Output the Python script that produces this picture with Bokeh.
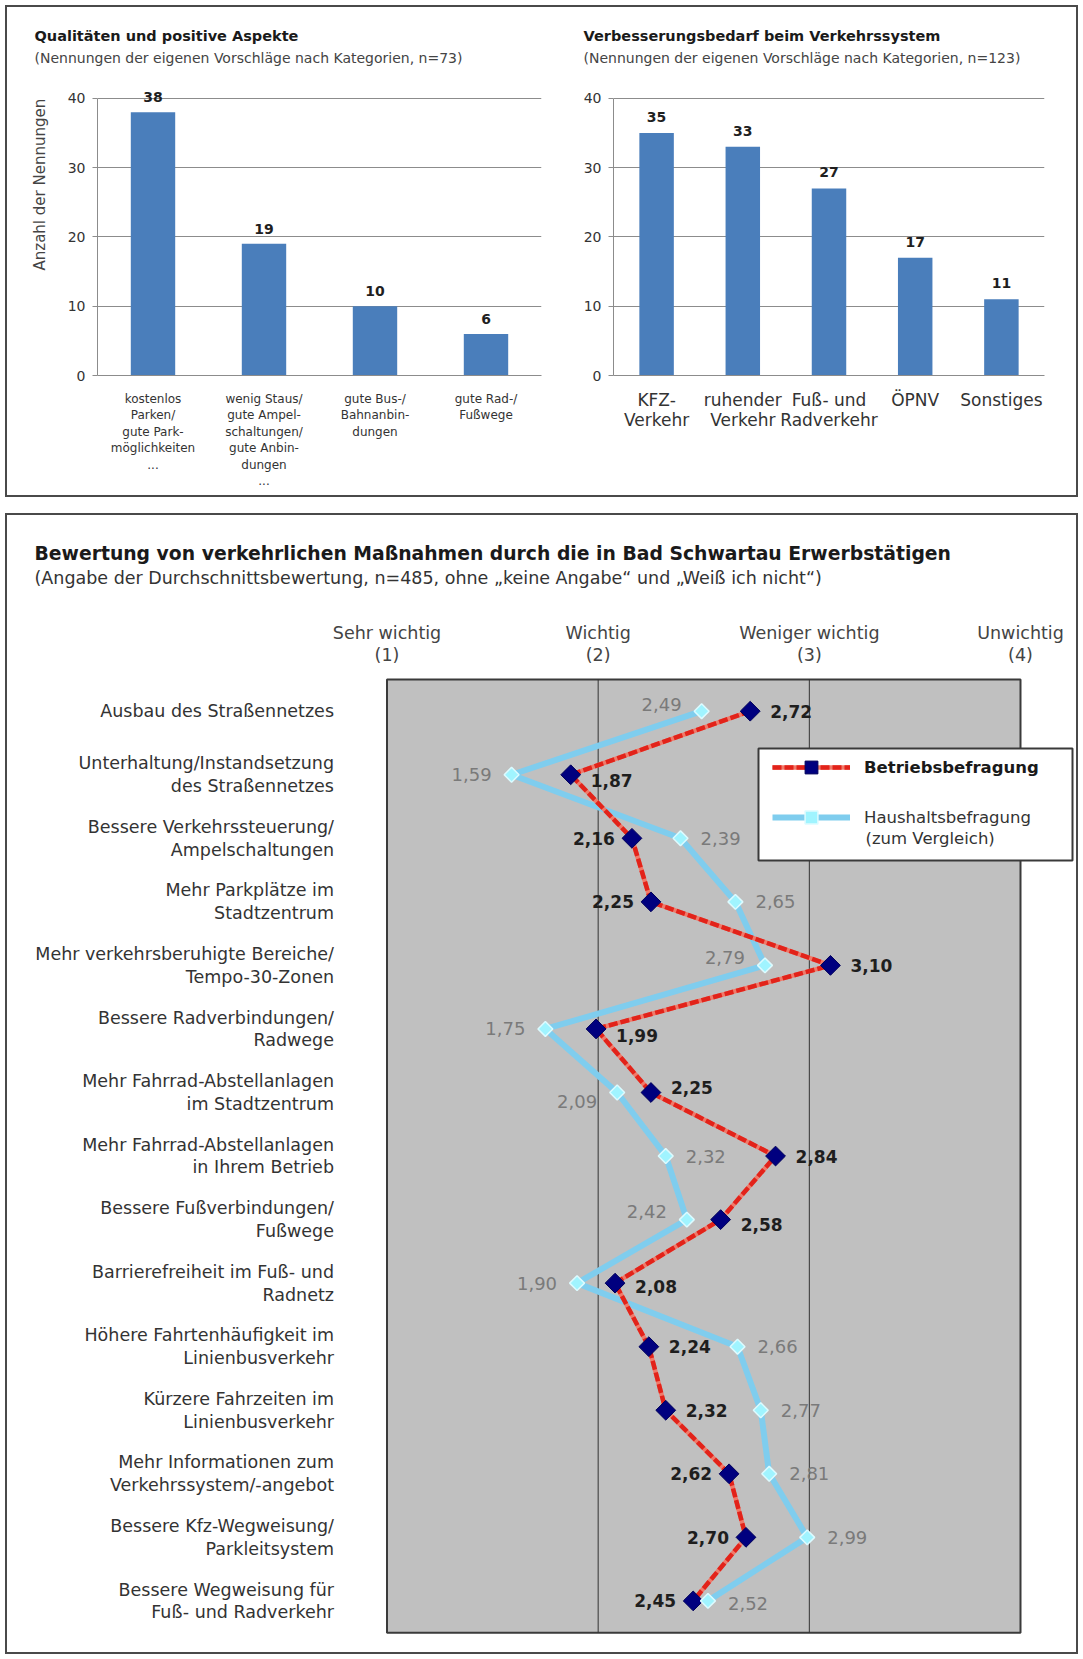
import math

from bokeh.core.properties import value
from bokeh.embed import file_html
from bokeh.layouts import column, row
from bokeh.models import (BoxAnnotation, ColumnDataSource, FactorRange, FixedTicker,
                          Label, Legend, LegendItem, Range1d, Spacer, Title)
from bokeh.plotting import figure
from bokeh.resources import INLINE

FONT = "DejaVu Sans"

# ---------------------------------------------------------------- data
pos_categories = [
    "kostenlos\nParken/\ngute Park-\nmöglichkeiten\n...",
    "wenig Staus/\ngute Ampel-\nschaltungen/\ngute Anbin-\ndungen\n...",
    "gute Bus-/\nBahnanbin-\ndungen",
    "gute Rad-/\nFußwege",
]
pos_counts = [38, 19, 10, 6]

need_categories = ["KFZ-\nVerkehr", "ruhender\nVerkehr", "Fuß- und\nRadverkehr", "ÖPNV", "Sonstiges"]
need_counts = [35, 33, 27, 17, 11]

count_ticks = [0, 10, 20, 30, 40]

measures = [
    "Ausbau des Straßennetzes",
    "Unterhaltung/Instandsetzung\ndes Straßennetzes",
    "Bessere Verkehrssteuerung/\nAmpelschaltungen",
    "Mehr Parkplätze im\nStadtzentrum",
    "Mehr verkehrsberuhigte Bereiche/\nTempo-30-Zonen",
    "Bessere Radverbindungen/\nRadwege",
    "Mehr Fahrrad-Abstellanlagen\nim Stadtzentrum",
    "Mehr Fahrrad-Abstellanlagen\nin Ihrem Betrieb",
    "Bessere Fußverbindungen/\nFußwege",
    "Barrierefreiheit im Fuß- und\nRadnetz",
    "Höhere Fahrtenhäufigkeit im\nLinienbusverkehr",
    "Kürzere Fahrzeiten im\nLinienbusverkehr",
    "Mehr Informationen zum\nVerkehrssystem/-angebot",
    "Bessere Kfz-Wegweisung/\nParkleitsystem",
    "Bessere Wegweisung für\nFuß- und Radverkehr",
]
betrieb = [2.72, 1.87, 2.16, 2.25, 3.10, 1.99, 2.25, 2.84, 2.58, 2.08, 2.24, 2.32, 2.62, 2.70, 2.45]
haushalt = [2.49, 1.59, 2.39, 2.65, 2.79, 1.75, 2.09, 2.32, 2.42, 1.90, 2.66, 2.77, 2.81, 2.99, 2.52]

scale_ticks = [1, 2, 3, 4]
scale_labels = ["Sehr wichtig\n(1)", "Wichtig\n(2)", "Weniger wichtig\n(3)", "Unwichtig\n(4)"]

# label placement next to the markers: side (+1 right / -1 left) and vertical nudge in px
betrieb_side = [1, 1, -1, -1, 1, 1, 1, 1, 1, 1, 1, 1, -1, -1, -1]
betrieb_nudge = [0, 6, 0, 0, 0, 7, -5, 0, 5, 3, 0, 0, 0, 0, 0]
haushalt_side = [-1, -1, 1, 1, -1, -1, -1, 1, -1, -1, 1, 1, 1, 1, 1]
haushalt_nudge = [-7, 0, 0, 0, -8, 0, 9, 0, -8, 0, 0, 0, 0, 0, 3]

TOP_H = 502
GAP = 6
BOTTOM_H = 1659 - TOP_H - GAP
BOTTOM_Y0 = TOP_H + GAP
PANEL_OUTLINE = {"outline": "2px solid #4a4a4a", "outline-offset": "-7px"}


def de(v):
    return f"{v:.2f}".replace(".", ",")


def make_title(text, offset, size, standoff, bold=False, color="#1a1a1a", align="left"):
    t = Title(text=text, align=align, offset=offset, text_font=FONT, text_font_size=size,
              text_font_style="bold" if bold else "normal", text_color=color)
    try:
        t.standoff = standoff
    except ValueError:
        t.standoff = max(standoff, 0)
    return t


def canvas_text(x, y, text, size, bold=False, color="#333333"):
    return Label(x=x, y=y, x_units="canvas", y_units="canvas", text=text,
                 text_font=FONT, text_font_size=size,
                 text_font_style="bold" if bold else "normal",
                 text_color=color, text_baseline="middle")


def bar_panel(cats, counts, width, left, right, label_size, line_h, label_gap, standoff):
    p = figure(x_range=FactorRange(*cats), y_range=Range1d(0, 43), title=None,
               width=width, height=TOP_H, output_backend="svg", toolbar_location=None,
               min_border_left=left, min_border_right=right,
               min_border_top=77, min_border_bottom=TOP_H - 375)
    p.border_fill_color = None
    p.background_fill_color = None
    p.outline_line_color = None
    p.vbar(x=cats, top=counts, width=0.4, fill_color="#4A7EBB", line_color=None)
    p.text(x=cats, y=counts, text=[str(c) for c in counts], y_offset=label_gap,
           text_align="center", text_baseline="middle",
           text_font=value(FONT), text_font_size="14px", text_font_style="bold",
           text_color="#1f1f1f")

    p.xaxis.axis_line_color = "#8c8c8c"
    p.xaxis.major_tick_line_color = None
    p.xaxis.minor_tick_line_color = None
    p.xaxis.major_label_standoff = standoff
    p.xaxis.major_label_text_font = FONT
    p.xaxis.major_label_text_font_size = label_size
    p.xaxis.major_label_text_color = "#333333"
    p.xaxis.major_label_text_line_height = line_h

    p.yaxis.ticker = FixedTicker(ticks=count_ticks)
    p.yaxis.bounds = (0, 40)
    p.yaxis.axis_line_color = "#8c8c8c"
    p.yaxis.major_tick_line_color = "#8c8c8c"
    p.yaxis.major_tick_out = 5
    p.yaxis.major_tick_in = 0
    p.yaxis.minor_tick_line_color = None
    p.yaxis.major_label_standoff = 7
    p.yaxis.major_label_text_font = FONT
    p.yaxis.major_label_text_font_size = "14px"
    p.yaxis.major_label_text_color = "#333333"

    p.xgrid.grid_line_color = None
    p.ygrid.ticker = FixedTicker(ticks=count_ticks[1:])
    p.ygrid.grid_line_color = "#8c8c8c"
    p.ygrid.grid_line_width = 1
    return p


def add_titles(p, title, subtitle, offset):
    p.add_layout(make_title(subtitle, offset, "14px", 24, color="#444444"), "above")
    p.add_layout(make_title(title, offset, "14.5px", -16, bold=True), "above")


# ---------------------------------------------------------------- top left
pa = bar_panel(pos_categories, pos_counts, 560, 97, 560 - 541, "12px", 1.18, -15, 10)
add_titles(pa, "Qualitäten und positive Aspekte",
           "(Nennungen der eigenen Vorschläge nach Kategorien, n=73)", 34 - 97)
# vertical axis title, started part-way up the scale
pa.add_layout(make_title("Anzahl der Nennungen", 105, "15px", 31, color="#444444",
                         align="left"), "left")

# ---------------------------------------------------------------- top right
pb_width = 1083 - 560
pb = bar_panel(need_categories, need_counts, pb_width, 613 - 560, pb_width - (1044 - 560),
               "17px", 1.0, -16, 8)
add_titles(pb, "Verbesserungsbedarf beim Verkehrssystem",
           "(Nennungen der eigenen Vorschläge nach Kategorien, n=123)", 583 - 613)

# ---------------------------------------------------------------- bottom: ratings
# the whole panel is one frame: rating scale 1..4 horizontally, measures as rows
rows = list(range(len(measures)))
ROW_PX = 63.55
UNIT_PX = (1020 - 386.5) / 3
ROW0_Y = 710.7 - BOTTOM_Y0
SCALE1_X = 386.5
x_lo = 1 - SCALE1_X / UNIT_PX
x_hi = 1 + (1083 - SCALE1_X) / UNIT_PX
y_top = -ROW0_Y / ROW_PX
y_bottom = (BOTTOM_H - ROW0_Y) / ROW_PX

pc = figure(x_range=Range1d(x_lo, x_hi), y_range=Range1d(y_bottom, y_top), title=None,
            width=1083, height=BOTTOM_H, output_backend="svg", toolbar_location=None,
            x_axis_type=None, y_axis_type=None, min_border=0, styles=PANEL_OUTLINE)
pc.border_fill_color = None
pc.background_fill_color = None
pc.outline_line_color = None

field_top, field_bottom = -0.5, len(measures) - 0.5
# grey rating field from "Sehr wichtig" to "Unwichtig"
pc.add_layout(BoxAnnotation(left=scale_ticks[0], right=scale_ticks[-1], top=field_top,
                            bottom=field_bottom, fill_color="#C0C0C0", fill_alpha=1.0,
                            line_color="#3a3a3a", line_alpha=1.0, line_width=2,
                            level="underlay"))
pc.segment(x0=scale_ticks[1:3], x1=scale_ticks[1:3], y0=field_top, y1=field_bottom,
           line_color="#333333", line_width=1)

# scale headings above the field, measure names left of it
pc.text(x=scale_ticks, y=[field_top] * len(scale_ticks), text=scale_labels, y_offset=-35,
        text_align="center", text_baseline="middle", text_font=value(FONT),
        text_font_size="17.5px", text_color="#444444", text_line_height=1.1)
pc.text(x=[scale_ticks[0]] * len(rows), y=rows, text=measures, x_offset=-53,
        text_align="right", text_baseline="middle", text_font=value(FONT),
        text_font_size="17.5px", text_color="#333333", text_line_height=1.14)

pc.add_layout(canvas_text(34, 553 - BOTTOM_Y0,
                          "Bewertung von verkehrlichen Maßnahmen durch die in Bad Schwartau "
                          "Erwerbstätigen", "18.8px", bold=True, color="#1a1a1a"))
pc.add_layout(canvas_text(34, 577 - BOTTOM_Y0,
                          "(Angabe der Durchschnittsbewertung, n=485, ohne „keine Angabe“ "
                          "und „Weiß ich nicht“)", "17.5px"))

src_b = ColumnDataSource(dict(x=betrieb, y=rows))
src_h = ColumnDataSource(dict(x=haushalt, y=rows))

line_h = pc.line(x="x", y="y", source=src_h, line_color="#7FCDEE", line_width=6)
# dashed red series line over a lighter red base stroke
base_b = pc.line(x="x", y="y", source=src_b, line_color="#F07A6A", line_width=4.5)
line_b = pc.line(x="x", y="y", source=src_b, line_color="#E2231A", line_width=4.5,
                 line_dash="9 3")
pts_b = pc.scatter(x="x", y="y", source=src_b, marker="square", angle=math.pi / 4, size=14,
                   fill_color="#00007F", line_color="#00005A", line_width=1)
pts_h = pc.scatter(x="x", y="y", source=src_h, marker="square", angle=math.pi / 4, size=10.5,
                   fill_color="#A0F4FF", line_color="#DDFBFF", line_width=1.5)


def value_labels(vals, sides, nudges, gap_r, gap_l, bold, color, size):
    for side, align, gap in ((1, "left", gap_r), (-1, "right", -gap_l)):
        idx = [i for i in rows if sides[i] == side]
        src = ColumnDataSource(dict(
            x=[vals[i] for i in idx], y=idx, t=[de(vals[i]) for i in idx],
            dy=[nudges[i] for i in idx]))
        pc.text(x="x", y="y", text="t", source=src, x_offset=gap, y_offset="dy",
                text_align=align, text_baseline="middle", text_font=value(FONT),
                text_font_size=size, text_font_style="bold" if bold else "normal",
                text_color=color)


value_labels(haushalt, haushalt_side, haushalt_nudge, 20, 20, False, "#7a7a7a", "18px")
value_labels(betrieb, betrieb_side, betrieb_nudge, 20, 17, True, "#1e1e1e", "17px")

# legend: white box with two entries
pc.add_layout(BoxAnnotation(left=758, right=1072, top=748 - BOTTOM_Y0, bottom=860 - BOTTOM_Y0,
                            left_units="canvas", right_units="canvas",
                            top_units="canvas", bottom_units="canvas",
                            fill_color="white", fill_alpha=1.0, line_color="#3a3a3a",
                            line_alpha=1.0, line_width=2))
legend_style = dict(background_fill_color=None, border_line_color=None, padding=0, margin=0,
                    spacing=0, glyph_width=78, glyph_height=32, label_height=20,
                    label_standoff=14, label_text_font=FONT, label_text_font_size="16.5px")
leg_b = Legend(items=[LegendItem(label="Betriebsbefragung", renderers=[base_b, line_b, pts_b])],
               location=(772, 1659 - 783), label_text_font_style="bold",
               label_text_color="#1a1a1a", **legend_style)
leg_h = Legend(items=[LegendItem(label="Haushaltsbefragung", renderers=[line_h, pts_h])],
               location=(772, 1659 - 833), label_text_color="#333333", **legend_style)
pc.add_layout(leg_b)
pc.add_layout(leg_h)
pc.add_layout(canvas_text(865, 838 - BOTTOM_Y0, "(zum Vergleich)", "16.5px"))

top = row(pa, pb, styles=PANEL_OUTLINE)
layout = column(top, Spacer(width=1083, height=GAP), pc)
open("out.html", "w").write(file_html(layout, INLINE))
